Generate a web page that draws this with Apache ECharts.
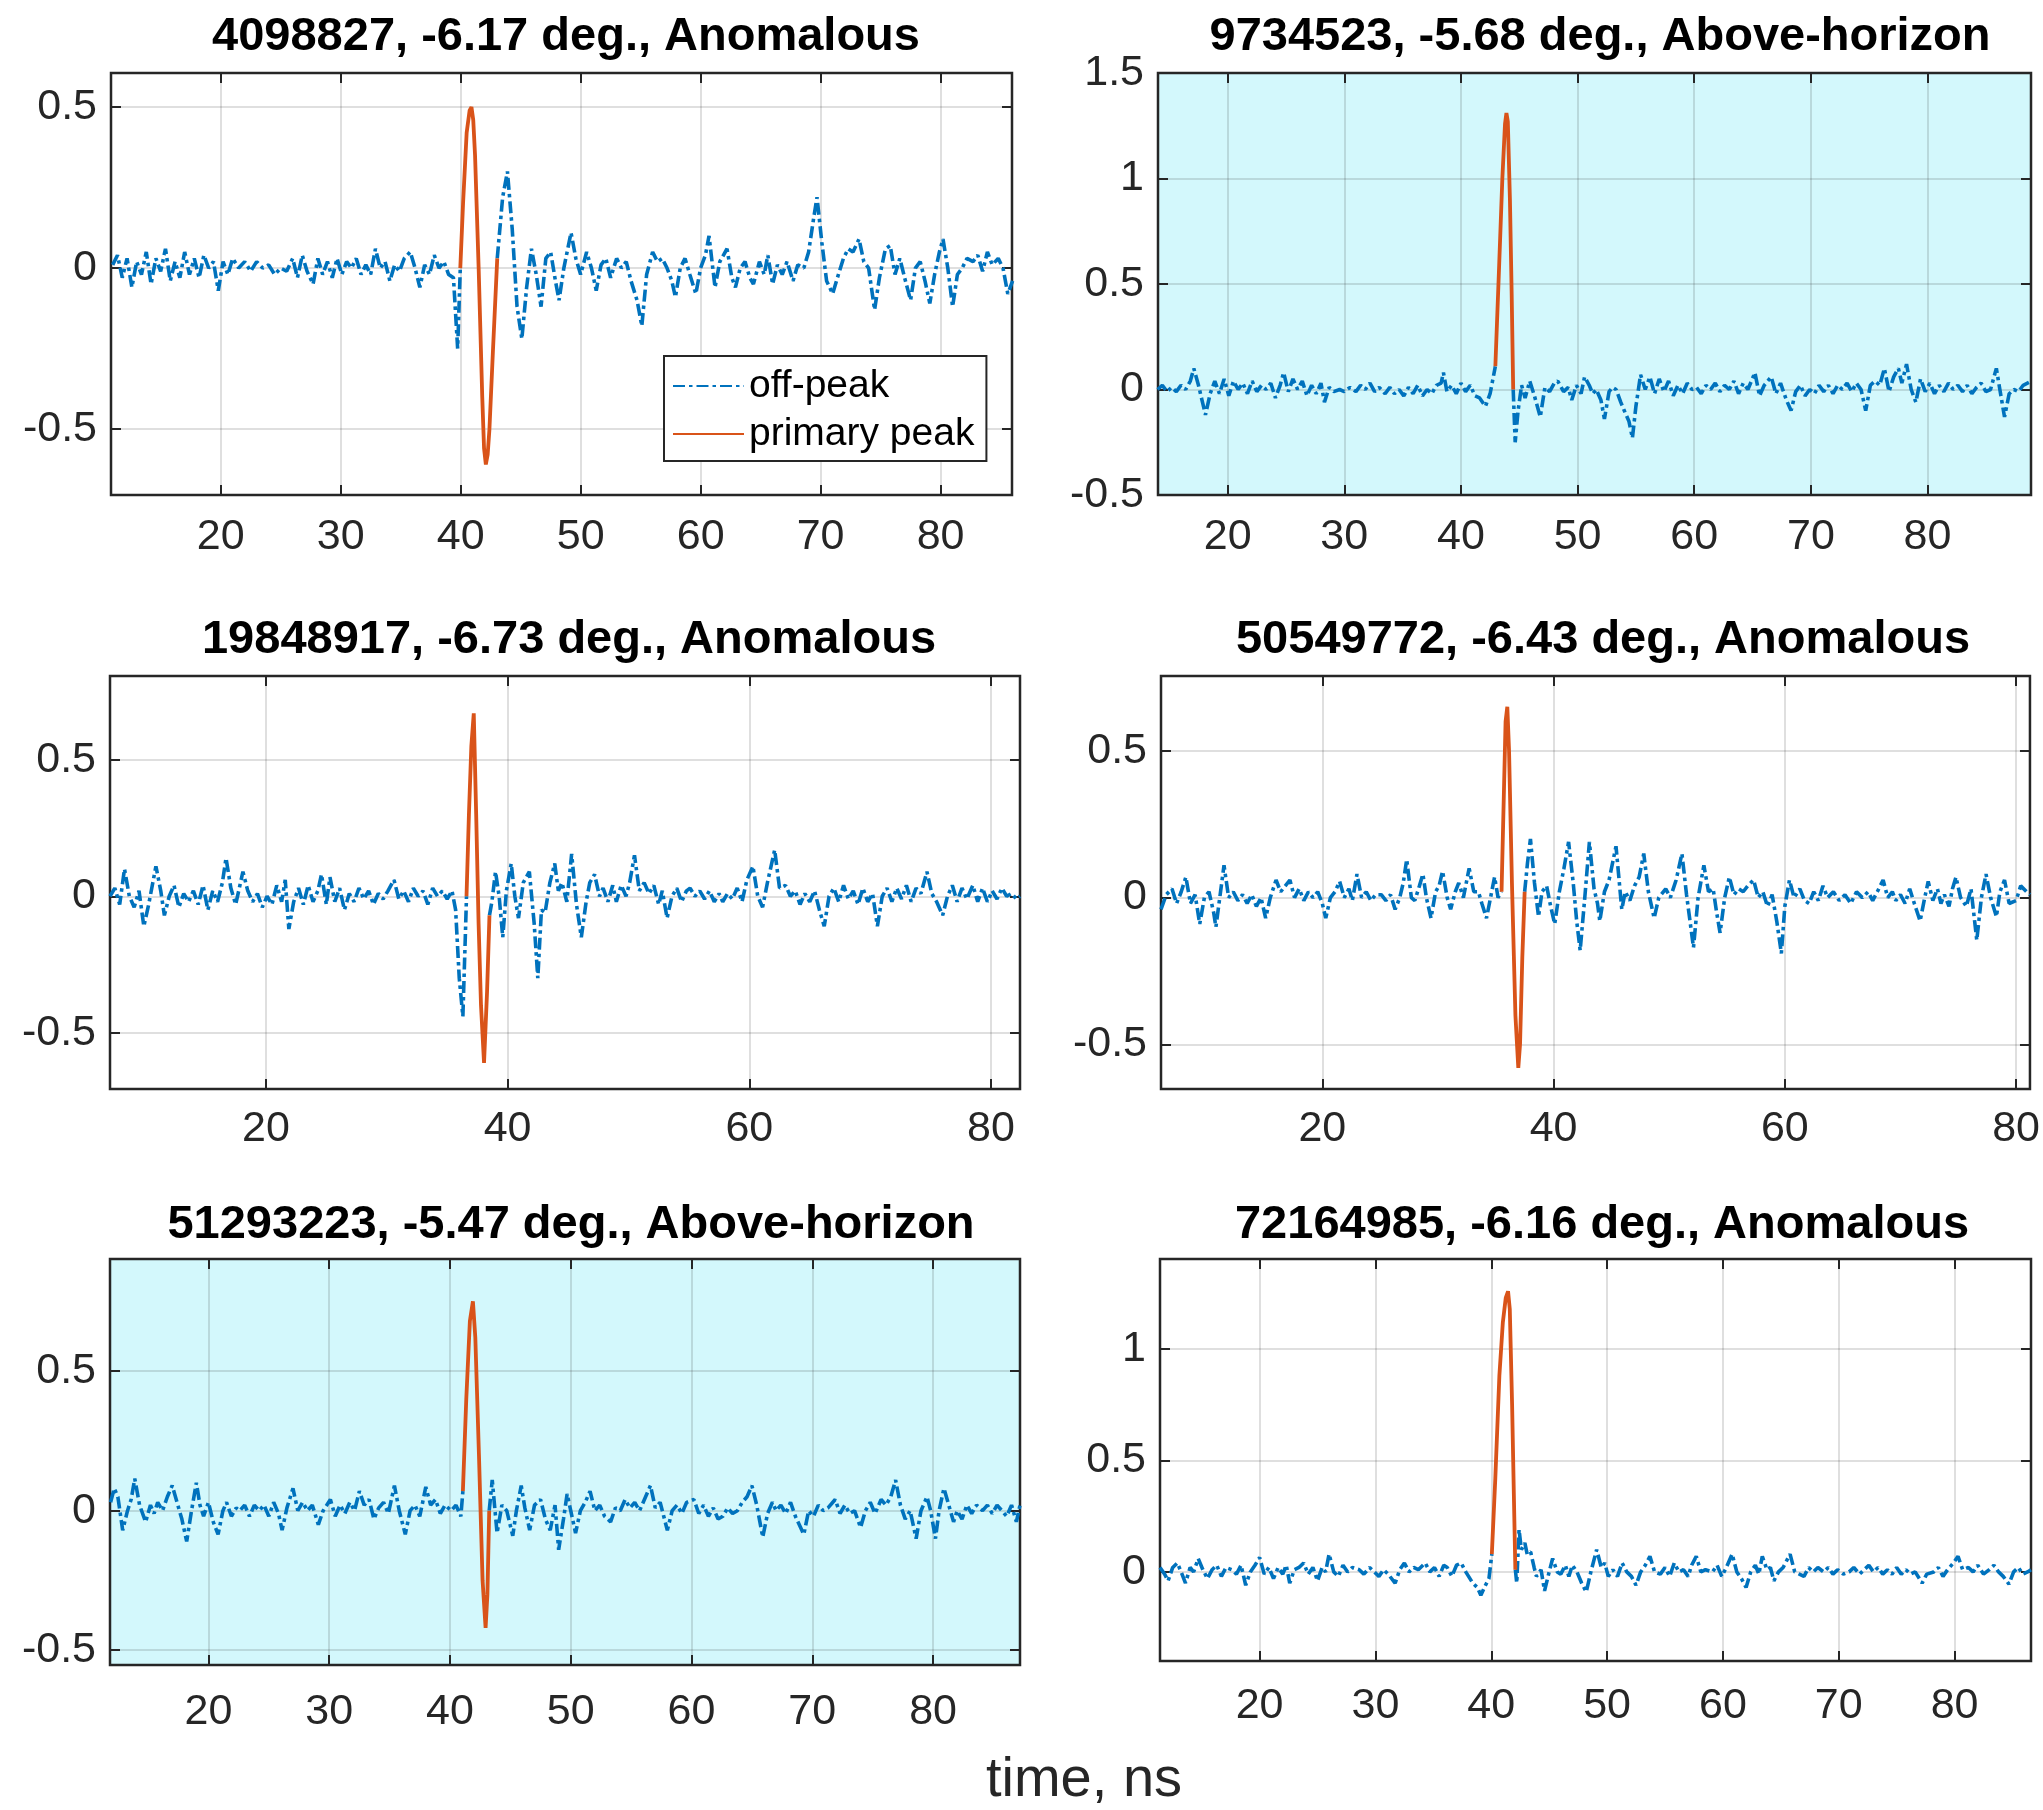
<!DOCTYPE html>
<html>
<head>
<meta charset="utf-8">
<script src="https://cdn.jsdelivr.net/npm/echarts@6/dist/echarts.min.js"></script>
<style>
html,body{margin:0;padding:0;background:#fff;}
#chart{width:2043px;height:1810px;}
</style>
</head>
<body>
<div id="chart"></div>
<script>
// ---------------- DATA ----------------
const titles = [
  "4098827, -6.17 deg., Anomalous",
  "9734523, -5.68 deg., Above-horizon",
  "19848917, -6.73 deg., Anomalous",
  "50549772, -6.43 deg., Anomalous",
  "51293223, -5.47 deg., Above-horizon",
  "72164985, -6.16 deg., Anomalous"
];
const xAxisLabel = "time, ns";
const legendNames = ["off-peak", "primary peak"];

const xTicks10 = [20, 30, 40, 50, 60, 70, 80];
const xTicks20 = [20, 40, 60, 80];
const yTicksA = [-0.5, 0, 0.5];
const yTicksB = [-0.5, 0, 0.5, 1, 1.5];
const yTicksC = [0, 0.5, 1];

// panel 1
const p1OffA = [[11.0,0.01],[11.4,0.04],[11.8,-0.03],[12.2,0.03],[12.6,-0.06],[13.0,0.02],[13.4,-0.02],[13.8,0.05],[14.2,-0.05],[14.6,0.03],[15.0,-0.01],[15.4,0.06],[15.8,-0.04],[16.2,0.02],[16.6,-0.03],[17.0,0.05],[17.4,-0.02],[17.8,0.03],[18.2,-0.03],[18.6,0.04],[19.0,0.0],[19.4,0.02],[19.8,-0.07],[20.2,0.02],[20.6,-0.02],[21.0,0.03],[21.5,0.0],[22.0,0.02],[22.5,-0.01],[23.0,0.02],[23.5,0.0],[24.0,0.01],[24.5,-0.02],[25.0,0.0],[25.5,-0.01],[26.0,0.03],[26.4,-0.03],[26.8,0.04],[27.2,-0.01],[27.7,-0.05],[28.1,0.03],[28.5,-0.02],[28.9,0.02],[29.3,-0.03],[29.7,0.03],[30.1,-0.02],[30.5,0.02],[30.9,0.0],[31.3,0.03],[31.7,-0.02],[32.1,0.01],[32.5,-0.02],[32.9,0.06],[33.3,0.0],[33.7,0.02],[34.1,-0.04],[34.5,0.01],[34.9,-0.01],[35.3,0.03],[35.8,0.05],[36.2,0.0],[36.6,-0.06],[37.0,0.01],[37.4,-0.02],[37.8,0.04],[38.2,0.0],[38.6,0.02],[39.0,-0.02],[39.4,-0.03],[39.75,-0.25],[39.97,0.0]];
const p1Peak = [[39.97,0.0],[40.2,0.2],[40.5,0.42],[40.75,0.49],[40.9,0.5],[41.05,0.46],[41.2,0.35],[41.5,0.0],[41.8,-0.4],[41.95,-0.56],[42.1,-0.61],[42.25,-0.58],[42.4,-0.5],[42.7,-0.25],[43.05,0.03]];
const p1OffB = [[43.05,0.03],[43.5,0.22],[43.9,0.3],[44.3,0.12],[44.7,-0.12],[45.1,-0.22],[45.5,-0.06],[45.9,0.06],[46.3,-0.02],[46.7,-0.12],[47.1,0.03],[47.5,0.05],[47.9,-0.04],[48.2,-0.1],[48.6,0.0],[49.2,0.11],[49.6,0.03],[50.0,-0.02],[50.5,0.05],[50.9,0.0],[51.3,-0.07],[51.7,0.01],[52.1,0.03],[52.5,-0.03],[53.0,0.03],[53.4,0.0],[53.8,0.02],[54.2,-0.04],[54.7,-0.1],[55.1,-0.18],[55.5,-0.02],[56.0,0.05],[56.4,0.02],[56.8,0.03],[57.2,0.0],[57.6,-0.04],[57.9,-0.09],[58.3,0.0],[58.7,0.03],[59.1,-0.02],[59.6,-0.08],[60.0,0.0],[60.4,0.04],[60.7,0.1],[61.2,-0.06],[61.6,0.02],[62.2,0.06],[62.6,-0.03],[62.9,-0.06],[63.3,0.0],[63.7,0.02],[64.1,-0.03],[64.4,-0.05],[64.9,0.02],[65.3,-0.02],[65.6,0.04],[66.0,-0.05],[66.4,0.01],[66.8,-0.02],[67.2,0.02],[67.7,-0.04],[68.1,0.01],[68.6,0.0],[69.0,0.05],[69.4,0.15],[69.7,0.22],[70.1,0.08],[70.5,-0.04],[71.0,-0.08],[71.4,-0.03],[71.9,0.03],[72.3,0.06],[72.7,0.05],[73.2,0.09],[73.6,0.02],[74.0,0.0],[74.5,-0.13],[74.9,-0.03],[75.4,0.06],[75.8,0.07],[76.2,-0.02],[76.6,0.03],[77.0,-0.03],[77.5,-0.1],[77.9,0.0],[78.3,0.02],[78.7,-0.04],[79.1,-0.11],[79.5,-0.02],[79.9,0.05],[80.2,0.09],[80.6,0.0],[81.0,-0.12],[81.4,-0.02],[81.8,0.0],[82.2,0.03],[82.7,0.02],[83.1,0.04],[83.5,-0.01],[83.9,0.05],[84.3,0.01],[84.8,0.03],[85.2,0.0],[85.6,-0.08],[86.0,-0.04]];

// panel 2
const p2OffA = [[14.0,0.0],[14.4,0.02],[14.8,-0.01],[15.2,0.01],[15.6,-0.01],[16.0,0.02],[16.4,0.0],[16.8,0.04],[17.1,0.1],[17.5,0.02],[17.8,-0.05],[18.1,-0.12],[18.5,-0.02],[18.9,0.04],[19.3,-0.02],[19.7,0.05],[20.1,-0.03],[20.5,0.04],[20.9,0.0],[21.3,0.03],[21.7,-0.02],[22.1,0.04],[22.5,-0.01],[22.9,0.02],[23.3,0.0],[23.7,0.03],[24.1,-0.04],[24.5,0.02],[24.8,0.08],[25.2,-0.01],[25.6,0.05],[26.0,0.0],[26.4,0.04],[26.8,-0.03],[27.2,0.02],[27.6,-0.02],[28.0,0.03],[28.3,-0.06],[28.7,0.01],[29.1,-0.01],[29.6,0.0],[30.0,-0.01],[30.5,0.01],[31.0,-0.01],[31.4,0.02],[31.8,0.0],[32.2,0.03],[32.6,-0.01],[33.0,0.01],[33.5,-0.02],[33.9,0.01],[34.3,-0.02],[34.7,0.0],[35.1,-0.03],[35.5,0.01],[35.9,-0.02],[36.3,0.02],[36.7,-0.03],[37.1,0.0],[37.5,-0.02],[37.9,0.02],[38.3,0.03],[38.5,0.08],[38.8,-0.01],[39.2,0.02],[39.6,-0.02],[40.0,0.03],[40.4,-0.01],[40.8,0.02],[41.2,-0.03],[41.6,-0.04],[42.1,-0.08],[42.5,-0.02],[42.95,0.11]];
const p2Peak = [[42.95,0.11],[43.25,0.55],[43.55,1.0],[43.78,1.26],[43.9,1.31],[44.02,1.27],[44.2,0.9],[44.35,0.45],[44.48,0.0]];
const p2OffB = [[44.48,0.0],[44.65,-0.25],[44.9,-0.1],[45.2,0.02],[45.5,-0.04],[45.9,0.04],[46.3,-0.03],[46.8,-0.13],[47.2,0.01],[47.6,-0.01],[48.0,0.03],[48.3,0.04],[48.8,-0.01],[49.2,0.01],[49.5,-0.05],[49.9,0.02],[50.3,-0.02],[50.6,0.06],[51.0,0.02],[51.3,-0.02],[51.6,0.0],[52.0,-0.05],[52.3,-0.14],[52.7,-0.01],[53.0,0.01],[53.3,0.0],[53.7,-0.06],[54.0,-0.1],[54.4,-0.15],[54.7,-0.23],[55.0,-0.08],[55.4,0.07],[55.8,0.0],[56.2,0.06],[56.6,-0.02],[57.0,0.05],[57.4,-0.01],[57.8,0.04],[58.2,-0.03],[58.6,0.02],[59.0,-0.02],[59.4,0.03],[59.8,0.0],[60.2,0.01],[60.6,-0.02],[61.0,0.02],[61.4,0.0],[61.8,0.03],[62.2,-0.01],[62.6,0.02],[63.0,0.0],[63.4,0.04],[63.8,-0.02],[64.2,0.03],[64.6,0.0],[65.2,0.08],[65.6,-0.03],[66.0,0.02],[66.6,0.06],[67.0,-0.02],[67.4,0.03],[67.9,-0.05],[68.3,-0.1],[68.7,-0.01],[69.1,0.02],[69.5,-0.03],[69.9,0.0],[70.3,-0.02],[70.7,0.02],[71.1,-0.01],[71.5,0.02],[71.9,-0.02],[72.3,0.02],[72.7,0.0],[73.1,0.03],[73.5,-0.01],[73.9,0.03],[74.3,0.0],[74.7,-0.1],[75.1,0.02],[75.5,0.04],[75.9,0.02],[76.3,0.1],[76.7,-0.01],[77.1,0.06],[77.5,0.1],[77.8,0.03],[78.2,0.12],[78.6,0.0],[79.0,-0.06],[79.4,0.05],[79.8,-0.01],[80.2,0.03],[80.6,-0.02],[81.0,0.02],[81.4,-0.01],[81.8,0.03],[82.2,0.0],[82.6,0.02],[83.0,-0.01],[83.4,0.02],[83.8,-0.02],[84.2,0.01],[84.6,0.03],[85.0,-0.01],[85.4,0.0],[85.9,0.1],[86.2,0.0],[86.6,-0.13],[87.0,-0.02],[87.4,0.0],[87.8,-0.01],[88.2,0.02],[88.9,0.04]];

// panel 3
const p3OffA = [[7.1,0.0],[7.5,0.03],[7.9,-0.03],[8.3,0.1],[8.7,0.0],[9.1,-0.04],[9.5,0.02],[9.9,-0.11],[10.3,-0.03],[10.9,0.11],[11.3,0.02],[11.6,-0.07],[12.0,0.0],[12.4,0.04],[12.8,-0.04],[13.2,0.01],[13.6,-0.02],[14.0,0.02],[14.4,-0.03],[14.8,0.04],[15.2,-0.05],[15.6,0.02],[16.0,-0.02],[16.4,0.05],[16.7,0.14],[17.1,0.03],[17.5,-0.03],[17.8,0.03],[18.1,0.09],[18.5,0.02],[18.9,-0.02],[19.3,0.01],[19.7,-0.04],[20.1,0.0],[20.5,-0.03],[20.9,0.04],[21.3,-0.02],[21.6,0.06],[21.9,-0.12],[22.3,-0.02],[22.7,0.03],[23.1,-0.03],[23.5,0.04],[23.9,-0.02],[24.3,0.02],[24.6,0.08],[25.0,-0.03],[25.3,0.07],[25.7,-0.02],[26.1,0.03],[26.5,-0.05],[26.9,0.01],[27.3,-0.02],[27.7,0.03],[28.1,-0.01],[28.5,0.02],[28.9,-0.03],[29.3,0.01],[29.7,-0.01],[30.1,0.02],[30.6,0.06],[31.0,-0.01],[31.4,0.02],[31.8,-0.02],[32.2,0.03],[32.6,0.0],[33.0,0.02],[33.4,-0.03],[33.8,0.03],[34.2,0.0],[34.6,0.02],[35.0,-0.01],[35.4,0.02],[35.7,-0.05],[36.0,-0.3],[36.3,-0.44],[36.5,-0.15],[36.6,0.0]];
const p3Peak = [[36.6,0.0],[36.8,0.3],[37.0,0.55],[37.2,0.67],[37.4,0.3],[37.6,-0.1],[37.8,-0.4],[38.05,-0.61],[38.3,-0.35],[38.5,-0.07]];
const p3OffB = [[38.5,-0.07],[38.7,-0.02],[39.0,0.09],[39.3,0.0],[39.6,-0.15],[39.9,0.02],[40.3,0.12],[40.6,0.0],[40.9,-0.08],[41.3,0.05],[41.8,0.09],[42.2,-0.1],[42.5,-0.3],[42.8,-0.05],[43.1,-0.06],[43.5,0.05],[43.9,0.12],[44.2,0.02],[44.5,0.05],[44.9,-0.02],[45.3,0.155],[45.7,-0.03],[46.1,-0.15],[46.5,-0.02],[46.8,0.05],[47.2,0.08],[47.6,0.0],[47.9,0.03],[48.3,-0.02],[48.7,0.04],[49.0,-0.02],[49.4,0.04],[49.8,0.0],[50.1,0.05],[50.5,0.15],[50.9,0.02],[51.3,0.05],[51.7,0.01],[52.1,0.04],[52.5,-0.03],[52.8,0.02],[53.2,-0.08],[53.6,0.0],[54.0,0.03],[54.4,-0.02],[54.8,0.02],[55.1,0.03],[55.5,0.0],[55.9,0.02],[56.3,-0.01],[56.7,0.02],[57.1,-0.02],[57.5,0.01],[57.8,-0.02],[58.2,0.01],[58.6,-0.01],[59.0,0.03],[59.4,-0.02],[59.8,0.06],[60.3,0.11],[60.7,0.0],[61.1,-0.04],[61.5,0.05],[62.1,0.17],[62.5,0.03],[63.0,0.04],[63.4,0.0],[63.8,0.02],[64.2,-0.03],[64.6,0.01],[65.0,-0.02],[65.4,0.02],[65.8,-0.05],[66.2,-0.11],[66.6,0.0],[67.0,0.03],[67.4,-0.02],[67.8,0.04],[68.2,-0.01],[68.6,0.02],[69.0,-0.03],[69.4,0.03],[69.8,-0.02],[70.2,0.01],[70.6,-0.11],[71.0,0.0],[71.4,0.03],[71.8,-0.02],[72.2,0.03],[72.6,-0.01],[73.0,0.04],[73.4,-0.02],[73.8,0.03],[74.2,0.01],[74.7,0.09],[75.1,0.01],[75.5,-0.02],[76.0,-0.07],[76.4,0.0],[76.8,0.04],[77.2,-0.02],[77.6,0.03],[78.0,-0.01],[78.5,0.04],[78.9,-0.02],[79.3,0.03],[79.7,-0.02],[80.1,0.02],[80.5,-0.01],[80.9,0.03],[81.3,0.0],[81.7,0.01],[82.1,-0.01],[82.4,0.0]];

// panel 4
const p4OffA = [[6.05,-0.04],[6.5,0.01],[7.0,0.03],[7.4,-0.02],[7.8,0.02],[8.2,0.07],[8.6,-0.02],[9.0,0.01],[9.4,-0.09],[9.8,0.0],[10.2,0.02],[10.6,-0.05],[10.8,-0.1],[11.2,0.02],[11.5,0.11],[11.9,0.0],[12.3,0.02],[12.7,-0.01],[13.1,0.01],[13.5,-0.02],[13.9,0.01],[14.3,-0.03],[14.7,0.0],[15.1,-0.07],[15.5,0.0],[16.0,0.06],[16.4,0.02],[16.8,0.04],[17.2,0.06],[17.6,0.0],[18.0,0.03],[18.4,-0.01],[18.8,0.02],[19.2,0.0],[19.6,0.02],[20.0,-0.02],[20.3,-0.07],[20.7,0.0],[21.1,0.02],[21.5,0.055],[21.9,0.0],[22.3,0.03],[22.6,-0.01],[23.0,0.08],[23.4,0.0],[23.8,0.02],[24.2,-0.01],[24.6,0.01],[25.1,0.01],[25.5,-0.01],[25.9,0.01],[26.3,-0.04],[26.7,0.0],[27.0,0.05],[27.3,0.13],[27.7,0.0],[28.0,-0.01],[28.4,0.04],[28.7,0.08],[29.0,0.0],[29.4,-0.07],[29.8,0.02],[30.1,0.04],[30.4,0.09],[30.8,0.0],[31.1,-0.04],[31.5,0.02],[31.8,0.05],[32.2,0.0],[32.7,0.1],[33.1,0.02],[33.5,0.02],[33.8,-0.02],[34.2,-0.07],[34.6,0.01],[34.9,0.07],[35.2,0.0],[35.5,0.02]];
const p4Peak = [[35.5,0.02],[35.7,0.35],[35.85,0.6],[36.0,0.65],[36.15,0.5],[36.4,0.05],[36.7,-0.4],[36.95,-0.58],[37.1,-0.5],[37.3,-0.2],[37.5,0.02]];
const p4OffB = [[37.5,0.02],[37.75,0.12],[38.0,0.2],[38.35,0.05],[38.7,-0.065],[39.0,0.02],[39.4,0.04],[39.75,-0.03],[40.1,-0.09],[40.5,0.02],[40.9,0.1],[41.3,0.19],[41.7,0.05],[42.0,-0.08],[42.3,-0.18],[42.7,0.0],[43.1,0.19],[43.5,0.03],[43.8,-0.02],[44.0,-0.08],[44.4,0.02],[44.8,0.06],[45.4,0.175],[45.9,-0.04],[46.2,0.02],[46.6,-0.01],[47.0,0.04],[47.4,0.07],[47.8,0.15],[48.2,0.02],[48.7,-0.07],[49.1,0.0],[49.7,0.03],[50.1,0.0],[50.6,0.06],[51.1,0.15],[51.5,0.01],[51.8,-0.08],[52.1,-0.17],[52.5,0.0],[53.0,0.11],[53.4,0.02],[53.8,0.03],[54.1,-0.05],[54.4,-0.12],[54.8,0.0],[55.2,0.07],[55.6,0.01],[56.0,0.03],[56.4,0.02],[56.8,0.04],[57.3,0.06],[57.7,0.0],[58.1,0.02],[58.5,-0.03],[58.9,0.01],[59.3,-0.08],[59.7,-0.19],[60.0,-0.03],[60.4,0.06],[60.8,0.0],[61.3,0.03],[61.7,-0.01],[62.1,-0.02],[62.5,0.02],[62.9,-0.01],[63.3,0.04],[63.7,0.0],[64.2,0.02],[64.7,-0.01],[65.2,0.01],[65.7,-0.02],[66.2,0.02],[66.7,0.0],[67.2,0.02],[67.6,-0.01],[68.0,0.02],[68.5,0.06],[68.9,0.0],[69.3,0.02],[69.6,-0.01],[70.0,0.01],[70.4,-0.02],[70.8,0.03],[71.2,-0.02],[71.7,-0.08],[72.1,0.0],[72.4,0.055],[72.8,-0.01],[73.2,0.03],[73.5,-0.02],[73.8,0.01],[74.2,-0.03],[74.5,0.03],[74.8,0.07],[75.2,0.0],[75.7,-0.03],[76.1,0.03],[76.6,-0.145],[77.0,0.0],[77.4,0.08],[77.8,0.0],[78.3,-0.065],[78.6,0.02],[79.0,0.06],[79.4,-0.02],[80.0,-0.01],[80.4,0.04],[80.9,0.02],[81.2,0.01]];

// panel 5
const p5OffA = [[11.9,0.03],[12.2,0.08],[12.5,0.05],[12.9,-0.07],[13.3,0.0],[13.6,0.04],[13.9,0.115],[14.3,0.02],[14.8,-0.04],[15.2,0.02],[15.5,-0.01],[15.8,0.03],[16.2,0.0],[16.6,0.05],[17.0,0.09],[17.4,0.03],[17.8,-0.03],[18.2,-0.11],[18.6,0.0],[19.0,0.1],[19.3,0.02],[19.6,-0.02],[20.0,0.03],[20.4,-0.04],[20.8,-0.085],[21.2,0.0],[21.5,0.03],[21.9,-0.02],[22.3,0.01],[22.6,0.0],[23.0,0.02],[23.4,-0.02],[23.8,0.02],[24.2,0.0],[24.6,0.02],[25.0,-0.02],[25.4,0.03],[25.8,-0.01],[26.1,-0.07],[26.5,0.01],[27.0,0.08],[27.4,0.0],[27.8,0.03],[28.2,0.0],[28.6,0.02],[29.1,-0.05],[29.5,0.0],[30.1,0.04],[30.5,-0.02],[30.9,0.02],[31.3,-0.01],[31.7,0.03],[32.1,0.0],[32.5,0.07],[32.9,0.02],[33.3,0.04],[33.7,-0.03],[34.1,0.01],[34.5,0.03],[34.9,-0.01],[35.4,0.09],[35.8,0.0],[36.3,-0.085],[36.7,0.0],[37.1,0.02],[37.5,-0.02],[38.0,0.085],[38.4,0.02],[38.8,0.04],[39.2,-0.01],[39.6,0.02],[40.1,0.0],[40.5,0.02],[40.9,-0.02],[41.07,0.07]];
const p5Peak = [[41.07,0.07],[41.35,0.4],[41.65,0.68],[41.9,0.75],[42.1,0.62],[42.4,0.2],[42.7,-0.25],[42.95,-0.42],[43.1,-0.3],[43.25,0.0]];
const p5OffB = [[43.25,0.0],[43.5,0.11],[43.9,-0.08],[44.3,0.02],[44.7,0.0],[45.2,-0.09],[45.5,0.0],[45.9,0.09],[46.2,0.01],[46.6,-0.07],[47.0,0.02],[47.5,0.04],[47.9,-0.03],[48.3,-0.07],[48.7,0.02],[49.0,-0.14],[49.4,-0.03],[49.7,0.06],[50.0,0.0],[50.4,-0.08],[50.8,0.0],[51.2,0.03],[51.6,0.07],[52.0,0.0],[52.4,0.02],[52.8,-0.02],[53.3,-0.04],[53.7,0.01],[54.1,0.0],[54.5,0.04],[54.9,0.01],[55.3,0.03],[55.7,0.0],[56.2,0.05],[56.6,0.09],[57.0,0.01],[57.4,0.03],[57.7,-0.02],[58.0,-0.07],[58.4,0.0],[58.8,0.02],[59.2,-0.01],[59.6,0.03],[60.2,0.04],[60.6,-0.01],[61.0,0.02],[61.4,-0.02],[61.8,0.01],[62.2,-0.03],[62.6,-0.02],[63.0,0.01],[63.4,-0.01],[63.8,0.0],[64.2,0.03],[64.6,0.05],[65.0,0.09],[65.4,0.02],[65.9,-0.095],[66.3,-0.01],[66.7,0.03],[67.0,0.0],[67.4,0.02],[67.8,-0.01],[68.2,0.03],[68.6,-0.02],[69.3,-0.085],[69.7,0.0],[70.1,-0.02],[70.5,0.02],[70.9,0.0],[71.3,0.01],[71.9,0.04],[72.3,-0.01],[72.7,0.02],[73.1,-0.01],[73.5,0.0],[74.0,-0.06],[74.4,0.0],[74.8,0.03],[75.2,-0.01],[75.7,0.04],[76.1,0.02],[76.5,0.05],[76.9,0.11],[77.3,0.02],[77.7,-0.03],[78.1,0.0],[78.6,-0.1],[79.0,0.0],[79.5,0.05],[79.8,0.0],[80.2,-0.1],[80.5,0.0],[80.9,0.08],[81.3,0.02],[81.7,-0.04],[82.0,0.0],[82.4,-0.03],[82.8,0.02],[83.2,-0.01],[83.6,0.02],[84.1,0.0],[84.5,0.02],[84.9,-0.01],[85.3,0.02],[85.7,0.0],[86.1,-0.02],[86.5,0.02],[86.9,-0.04],[87.2,0.02]];

// panel 6
const p6OffA = [[11.4,0.02],[11.8,-0.01],[12.1,-0.04],[12.5,0.02],[12.9,0.04],[13.3,-0.01],[13.6,-0.05],[14.0,0.02],[14.3,0.0],[14.7,0.06],[15.1,0.01],[15.5,-0.03],[15.9,0.01],[16.3,0.03],[16.7,-0.02],[17.1,0.02],[17.6,0.01],[18.0,-0.01],[18.4,0.03],[18.8,-0.06],[19.2,0.0],[19.6,0.03],[20.0,0.065],[20.4,-0.01],[20.8,0.02],[21.2,-0.03],[21.6,0.02],[22.0,-0.01],[22.3,0.03],[22.6,-0.05],[23.0,0.01],[23.4,0.02],[23.8,0.04],[24.2,-0.01],[24.6,0.02],[25.0,-0.04],[25.4,0.02],[25.7,0.0],[26.0,0.08],[26.4,0.0],[26.8,-0.02],[27.2,0.03],[27.6,0.0],[28.0,0.02],[28.6,0.01],[29.0,-0.01],[29.5,0.02],[29.9,0.0],[30.3,-0.02],[30.7,0.01],[31.1,-0.01],[31.7,-0.05],[32.1,0.01],[32.5,0.04],[32.9,0.0],[33.3,0.02],[33.7,0.01],[34.3,0.04],[34.7,0.0],[35.1,0.02],[35.5,-0.02],[35.9,0.03],[36.2,0.02],[36.6,-0.02],[37.0,0.03],[37.4,0.04],[37.8,0.0],[38.4,-0.05],[38.8,-0.07],[39.1,-0.105],[39.5,-0.06],[39.8,-0.03],[40.05,0.08]];
const p6Peak = [[40.05,0.08],[40.35,0.42],[40.7,0.88],[41.0,1.12],[41.25,1.23],[41.45,1.26],[41.6,1.18],[41.8,0.75],[41.95,0.35],[42.08,0.01]];
const p6OffB = [[42.08,0.01],[42.2,-0.05],[42.4,0.19],[42.6,0.1],[42.9,0.13],[43.1,0.08],[43.4,0.09],[43.7,0.02],[43.9,-0.02],[44.3,0.01],[44.6,-0.085],[45.0,0.0],[45.3,0.06],[45.7,0.0],[46.0,-0.01],[46.4,0.03],[46.7,-0.02],[47.0,0.03],[47.4,0.0],[47.8,-0.05],[48.2,-0.09],[48.6,0.0],[49.1,0.1],[49.5,0.02],[49.8,0.04],[50.1,-0.02],[50.5,0.01],[50.9,-0.02],[51.3,0.04],[51.7,0.0],[52.1,-0.02],[52.5,-0.06],[52.9,0.0],[53.3,0.03],[53.7,0.07],[54.1,0.0],[54.6,-0.01],[55.0,0.02],[55.4,-0.02],[55.8,0.04],[56.2,0.0],[56.6,0.01],[57.0,-0.02],[57.3,0.03],[57.7,0.07],[58.1,0.0],[58.5,0.01],[59.1,0.0],[59.5,0.03],[59.9,-0.02],[60.3,0.02],[60.8,0.08],[61.2,0.0],[61.6,-0.03],[62.0,-0.07],[62.4,0.0],[62.8,0.03],[63.1,-0.01],[63.4,0.07],[63.8,0.01],[64.1,0.02],[64.4,-0.04],[64.8,0.0],[65.2,0.02],[65.8,0.08],[66.2,0.0],[66.6,-0.01],[67.0,-0.02],[67.4,0.02],[67.8,0.0],[68.2,0.02],[68.7,0.0],[69.1,0.02],[69.5,-0.01],[69.9,0.01],[70.4,-0.01],[70.9,0.0],[71.3,0.02],[71.8,-0.01],[72.2,0.01],[72.6,0.03],[73.0,0.0],[73.4,0.02],[73.8,-0.01],[74.2,0.01],[74.6,-0.01],[75.0,0.02],[75.4,-0.01],[75.8,0.01],[76.2,-0.01],[76.6,0.0],[77.2,-0.05],[77.6,-0.01],[78.2,0.0],[78.6,0.02],[79.0,-0.02],[79.4,0.01],[79.9,0.04],[80.3,0.07],[80.7,0.01],[81.2,0.02],[81.6,0.0],[82.0,0.03],[82.5,-0.01],[83.0,0.01],[83.4,0.03],[83.8,0.0],[84.2,-0.02],[84.7,-0.055],[85.1,0.0],[85.5,0.02],[85.9,-0.01],[86.3,0.0],[86.6,0.01]];

// axis ranges per panel
const xRanges = [[10.86, 85.95], [14.03, 88.87], [7.1, 82.4], [6.05, 81.2], [11.85, 87.2], [11.4, 86.6]];
const yRanges = [[-0.705, 0.606], [-0.5, 1.5], [-0.706, 0.807], [-0.652, 0.755], [-0.553, 0.902], [-0.4, 1.405]];

// ---------------- LAYOUT / STYLE ----------------
const panelData = [
  {offA: p1OffA, peak: p1Peak, offB: p1OffB, xt: xTicks10, yt: yTicksA, bg: null},
  {offA: p2OffA, peak: p2Peak, offB: p2OffB, xt: xTicks10, yt: yTicksB, bg: '#d3f8fc'},
  {offA: p3OffA, peak: p3Peak, offB: p3OffB, xt: xTicks20, yt: yTicksA, bg: null},
  {offA: p4OffA, peak: p4Peak, offB: p4OffB, xt: xTicks20, yt: yTicksA, bg: null},
  {offA: p5OffA, peak: p5Peak, offB: p5OffB, xt: xTicks10, yt: yTicksA, bg: '#d3f8fc'},
  {offA: p6OffA, peak: p6Peak, offB: p6OffB, xt: xTicks10, yt: yTicksC, bg: null}
];
const boxes = [
  {left: 111, top: 73, width: 901, height: 422, tx: 566, ty: 37, xm: 21},
  {left: 1158, top: 73, width: 873, height: 422, tx: 1600, ty: 37, xm: 21},
  {left: 110, top: 676, width: 910, height: 413, tx: 569, ty: 640, xm: 19},
  {left: 1161, top: 676, width: 870, height: 413, tx: 1603, ty: 640, xm: 19},
  {left: 110, top: 1259, width: 910, height: 406, tx: 571, ty: 1225, xm: 26},
  {left: 1160, top: 1259, width: 871, height: 402, tx: 1602, ty: 1225, xm: 24}
];

const FONT = '"Liberation Sans", Arial, Helvetica, sans-serif';
const AX = '#262626';
const BLUE = '#0072BD';
const ORANGE = '#D95319';
const DASH = [12, 4, 3.5, 4];

const grids = [], xAxes = [], yAxes = [], series = [], graphics = [];
panelData.forEach((p, i) => {
  const b = boxes[i];
  grids.push({
    left: b.left, top: b.top, width: b.width, height: b.height,
    show: true, backgroundColor: p.bg || '#ffffff',
    borderColor: AX, borderWidth: 2.5, containLabel: false
  });
  const xr = xRanges[i], yr = yRanges[i];
  const tickStyle = {show: true, inside: true, length: 10, lineStyle: {color: AX, width: 2}};
  xAxes.push({
    type: 'value', gridIndex: i, position: 'bottom', min: xr[0], max: xr[1],
    axisLine: {show: false, onZero: false},
    axisTick: Object.assign({customValues: p.xt}, tickStyle),
    axisLabel: {show: true, customValues: p.xt, margin: b.xm, color: AX, fontSize: 43, fontFamily: FONT},
    splitLine: {show: true, lineStyle: {color: 'rgba(38,38,38,0.15)', width: 2}}
  });
  xAxes.push({
    type: 'value', gridIndex: i, position: 'top', min: xr[0], max: xr[1],
    axisLine: {show: false, onZero: false},
    axisTick: Object.assign({customValues: p.xt}, tickStyle),
    axisLabel: {show: false, customValues: p.xt},
    splitLine: {show: false}
  });
  yAxes.push({
    type: 'value', gridIndex: i, position: 'left', min: yr[0], max: yr[1],
    axisLine: {show: false, onZero: false},
    axisTick: Object.assign({customValues: p.yt}, tickStyle),
    axisLabel: {show: true, customValues: p.yt, margin: 14, color: AX, fontSize: 43, fontFamily: FONT},
    splitLine: {show: true, lineStyle: {color: 'rgba(38,38,38,0.15)', width: 2}}
  });
  yAxes.push({
    type: 'value', gridIndex: i, position: 'right', min: yr[0], max: yr[1],
    axisLine: {show: false, onZero: false},
    axisTick: Object.assign({customValues: p.yt}, tickStyle),
    axisLabel: {show: false, customValues: p.yt},
    splitLine: {show: false}
  });
  const xi = i * 2, yi = i * 2;
  const offStyle = {color: BLUE, width: 3.6, type: DASH};
  [p.offA, p.offB].forEach(d => {
    series.push({
      name: legendNames[0], type: 'line', xAxisIndex: xi, yAxisIndex: yi,
      data: d, showSymbol: false, symbol: 'none', silent: true, animation: false,
      lineStyle: offStyle, itemStyle: {color: BLUE}, z: 3
    });
  });
  series.push({
    name: legendNames[1], type: 'line', xAxisIndex: xi, yAxisIndex: yi,
    data: p.peak, showSymbol: false, symbol: 'none', silent: true, animation: false,
    lineStyle: {color: ORANGE, width: 3.8, type: 'solid'}, itemStyle: {color: ORANGE}, z: 4
  });
  graphics.push({
    type: 'text', x: b.tx, y: b.ty, silent: true,
    style: {text: titles[i], fill: '#000', font: 'bold 47px ' + FONT, textAlign: 'center', textVerticalAlign: 'middle'}
  });
});
graphics.push({
  type: 'text', x: 1084, y: 1781, silent: true,
  style: {text: xAxisLabel, fill: AX, font: '56px ' + FONT, textAlign: 'center', textVerticalAlign: 'middle'}
});

const chart = echarts.init(document.getElementById('chart'), null, {renderer: 'canvas', width: 2043, height: 1810});
chart.setOption({
  animation: false,
  backgroundColor: '#ffffff',
  grid: grids,
  xAxis: xAxes,
  yAxis: yAxes,
  series: series,
  legend: {
    show: true, data: legendNames, orient: 'vertical',
    left: 664, top: 356, padding: [10, 12, 7, 8],
    itemWidth: 71, itemHeight: 14, itemGap: 8,
    itemStyle: {opacity: 0},
    backgroundColor: '#ffffff', borderColor: AX, borderWidth: 2,
    textStyle: {fontSize: 39, lineHeight: 40, color: '#000', fontFamily: FONT},
    selectedMode: false
  },
  graphic: graphics
});
</script>
</body>
</html>
